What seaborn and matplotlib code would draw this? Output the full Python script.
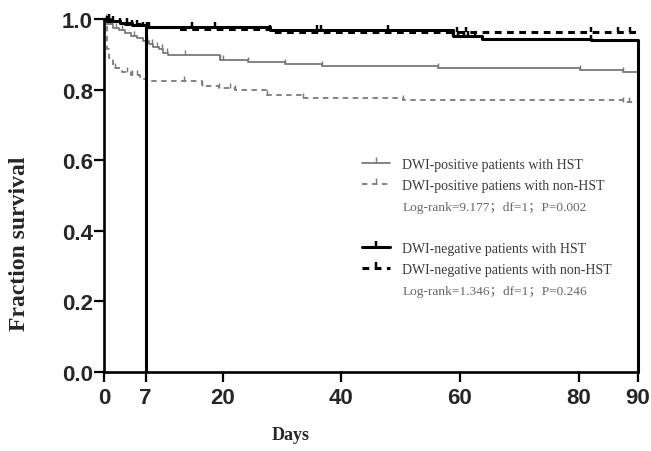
import numpy as np
import pandas as pd
import seaborn as sns
import matplotlib.pyplot as plt
from matplotlib.path import Path
from matplotlib.lines import Line2D

# ==========================================
# DATA
# ==========================================
pos_hst_days = [0, 0.3, 1.5, 2.5, 3.5, 4.5, 5.5, 6.5, 7.5, 8.3, 9.2, 10.0, 10.8,
                19.6, 24.3, 30.5, 36.8, 56.3, 80.3, 87.4, 90]
pos_hst_surv = [1.0, 0.985, 0.975, 0.968, 0.96, 0.952, 0.945, 0.938, 0.93, 0.922,
                0.915, 0.905, 0.897, 0.885, 0.878, 0.872, 0.866, 0.86, 0.855, 0.85, 0.85]
pos_hst_cens = [1, 2, 3, 5, 7.2, 8.1, 8.9, 9.8, 10.6, 13.7, 19.6, 20.1, 24.3,
                30.5, 36.8, 56.3, 80.3, 87.4]

pos_non_days = [0, 0.5, 0.8, 1.5, 3.0, 4.5, 6.0, 7.0, 16.5, 19.3, 22.0, 27.5, 33.6,
                50.4, 87.4, 90]
pos_non_surv = [1.0, 0.915, 0.89, 0.86, 0.85, 0.84, 0.83, 0.825, 0.81, 0.805, 0.80,
                0.785, 0.777, 0.77, 0.765, 0.765]
pos_non_cens = [0.4, 1.9, 3.9, 4.7, 5.5, 13.4, 16.5, 19.3, 21.3, 22, 27.5, 33.6,
                50.4, 87.4, 88.5]

neg_hst_days = [0, 0.5, 2.7, 4.7, 7.2, 28, 58.9, 63.7, 82, 90, 90]
neg_hst_surv = [1.0, 0.995, 0.99, 0.983, 0.976, 0.968, 0.953, 0.943, 0.94, 0.94, 0.0]
neg_hst_cens = [0.5, 2.7, 3.9, 4.7, 5.5, 7.2, 14.8, 18.7, 28, 35.9, 36.5, 47.9,
                58.9, 59.6, 60.6, 61.4, 62.5, 82]

neg_non_days = [0, 1, 3.5, 6, 12, 28, 58, 90]
neg_non_surv = [1.0, 0.993, 0.986, 0.978, 0.972, 0.964, 0.962, 0.962]
neg_non_cens = [0.8, 1.5, 6.5, 7.5, 59.5, 61, 82, 86.7, 88.7]

day7 = 7
x_ticks = [0, 7, 20, 40, 60, 80, 90]
y_ticks = [0.0, 0.2, 0.4, 0.6, 0.8, 1.0]

labels = ["DWI-positive patients with HST",
          "DWI-positive patiens with non-HST",
          "DWI-negative patients with HST",
          "DWI-negative patients with non-HST"]
logrank_pos = "Log-rank=9.177；df=1；P=0.002"
logrank_neg = "Log-rank=1.346；df=1；P=0.246"


def surv_at(days, surv, t):
    # value of the step function just after time t
    idx = np.searchsorted(days, t, side="right") - 1
    return np.asarray(surv)[idx]


sns.set_style("ticks")
plt.rcParams['font.family'] = ['Liberation Sans', 'DejaVu Sans']

fig = plt.figure(figsize=(6.51, 4.52), dpi=100)
ax = fig.add_axes([0.1598, 0.1748, 0.8202, 0.781])

tick = Path([(0, 0), (0, 1)])

series = [
    (pos_hst_days, pos_hst_surv, pos_hst_cens, "#7a7a7a", 1.3, "-", labels[0]),
    (pos_non_days, pos_non_surv, pos_non_cens, "#7a7a7a", 1.3, (0, (3, 2.5)), labels[1]),
    (neg_hst_days, neg_hst_surv, neg_hst_cens, "black", 2.2, "-", labels[2]),
    (neg_non_days, neg_non_surv, neg_non_cens, "black", 2.2, (0, (2.2, 1.8)), labels[3]),
]

handles = []
for days, surv, cens, col, lw, ls, lab in series:
    df = pd.DataFrame({"day": days, "surv": surv})
    sns.lineplot(data=df, x="day", y="surv", ax=ax, color=col, linewidth=lw,
                 linestyle=ls, drawstyle="steps-post", sort=False,
                 estimator=None, clip_on=False)
    cy = [surv_at(days, surv, c) for c in cens]
    ax.plot(cens, cy, linestyle="none", marker=tick, markersize=7.5,
            markeredgewidth=lw * 0.8, color=col, clip_on=False)
    handles.append(Line2D([], [], color=col, linewidth=lw, linestyle=ls,
                          marker=tick, markersize=8, markeredgewidth=lw * 0.8))

# 7-day reference line
ax.vlines(day7, 0, surv_at(neg_hst_days, neg_hst_surv, day7), color="black",
          linewidth=2.2)

ax.set_xlim(0, 90)
ax.set_ylim(0, 1.0)
ax.set_xticks(x_ticks)
ax.set_yticks(y_ticks)
ax.set_yticklabels([f"{v:.1f}" for v in y_ticks])
for lab in ax.get_xticklabels() + ax.get_yticklabels():
    lab.set_fontweight("bold")
    lab.set_fontsize(16)
ax.tick_params(axis="both", length=7, width=1.6, color="black")
ax.tick_params(axis="x", pad=4)
ax.tick_params(axis="y", pad=1)

for side in ["top", "right"]:
    ax.spines[side].set_visible(False)
for side in ["left", "bottom"]:
    ax.spines[side].set_linewidth(1.9)
    ax.spines[side].set_color("black")

ax.set_xlabel("Days", family="Liberation Serif", fontweight="bold", fontsize=13)
ax.set_ylabel("Fraction survival", family="Liberation Serif", fontweight="bold",
              fontsize=17)
ax.xaxis.set_label_coords(0.35, -0.152)
ax.yaxis.set_label_coords(-0.139, 0.365)

leg_kw = dict(loc="upper left", frameon=False, borderpad=0, borderaxespad=0,
              handlelength=2.0, handletextpad=0.9, labelspacing=0.55, numpoints=1,
              prop={"family": "Liberation Serif", "size": 10})
leg1 = fig.legend(handles[:2], labels[:2], bbox_to_anchor=(0.556, 0.648), **leg_kw)
leg2 = fig.legend(handles[2:], labels[2:], bbox_to_anchor=(0.556, 0.462), **leg_kw)
for leg in (leg1, leg2):
    for t in leg.get_texts():
        t.set_color("#3a3a3a")

fig.text(0.619, 1 - 208 / 452, logrank_pos, va="center", ha="left", fontsize=9.6,
         color="#666666", family=["Liberation Serif", "Noto Sans CJK SC"])
fig.text(0.619, 1 - 292 / 452, logrank_neg, va="center", ha="left", fontsize=9.6,
         color="#666666", family=["Liberation Serif", "Noto Sans CJK SC"])

fig.savefig("out.png", dpi=100)
